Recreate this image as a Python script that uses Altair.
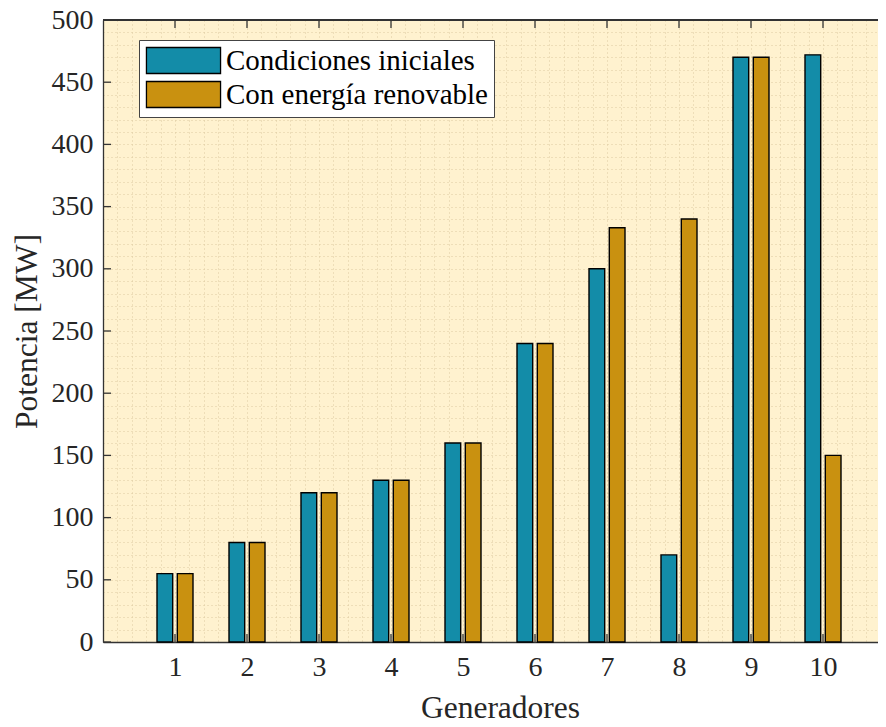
import altair as alt
import pandas as pd

generadores = list(range(1, 11))
condiciones_iniciales = [55, 80, 120, 130, 160, 240, 300, 70, 470, 472]
con_energia_renovable = [55, 80, 120, 130, 160, 240, 333, 340, 470, 150]
series = ["Condiciones iniciales", "Con energía renovable"]
y_ticks = list(range(0, 501, 50))
y_grid = list(range(0, 501, 10))
x_grid = [round(i * 0.2, 1) for i in range(54)]

W, H = 775, 622
XMAX = W / 72.0
FONT = "Liberation Serif"
BLUE = "#138CA8"
GOLD = "#C99110"
BG = "#FFF2CF"
GRID = "#DCCAA0"
AX = "#333333"

rows = []
for i, g in enumerate(generadores):
    rows.append({"gen": g, "serie": series[0], "idx": 0, "value": condiciones_iniciales[i]})
    rows.append({"gen": g, "serie": series[1], "idx": 1, "value": con_energia_renovable[i]})
df = pd.DataFrame(rows)

xscale = alt.Scale(domain=[0, XMAX], nice=False, zero=False)
yscale = alt.Scale(domain=[0, 500], nice=False)

xaxis = alt.Axis(
    values=x_grid, grid=True, gridColor=GRID, gridDash=[1, 3], gridWidth=1,
    ticks=False, domain=True, domainColor=AX, domainWidth=1.3,
    labelExpr="datum.value >= 1 && datum.value <= 10 && datum.value % 1 == 0 ? format(datum.value, 'd') : ''",
    labelFont=FONT, labelFontSize=28, labelColor="#262626", labelPadding=11,
    labelOverlap=False, labelFlush=False,
    title="Generadores", titleFont=FONT, titleFontSize=31.5, titleFontWeight="normal",
    titleColor="#262626", titleX=397, titleY=75, titleBaseline="alphabetic",
)
yaxis = alt.Axis(
    values=y_grid, grid=True, gridColor=GRID, gridDash=[1, 3], gridWidth=1,
    ticks=False, domain=True, domainColor=AX, domainWidth=1.3,
    labelExpr="datum.value % 50 == 0 ? format(datum.value, 'd') : ''",
    labelFont=FONT, labelFontSize=28, labelColor="#262626", labelPadding=10,
    labelOverlap=False, labelFlush=False,
    title="Potencia [MW]", titleFont=FONT, titleFontSize=31.5, titleFontWeight="normal",
    titleColor="#262626", titleX=-76, titleY=311, titleAngle=-90, titleBaseline="middle",
)

bars = alt.Chart(df).transform_calculate(
    x0="datum.gen + (datum.idx == 0 ? -0.25 : 0.032)",
    x1="datum.gen + (datum.idx == 0 ? -0.032 : 0.25)",
).mark_bar(stroke="black", strokeWidth=1.4).encode(
    x=alt.X("x0:Q", scale=xscale, axis=xaxis),
    x2="x1:Q",
    y=alt.Y("value:Q", scale=yscale, axis=yaxis),
    y2=alt.Y2(datum=0),
    color=alt.Color("serie:N", scale=alt.Scale(domain=series, range=[BLUE, GOLD]),
                    sort=series,
                    legend=alt.Legend(
                        orient="none", legendX=36, legendY=20, title=None,
                        symbolType="M-2.85,-1H2.85V1H-2.85Z", symbolSize=676,
                        symbolOffset=24,
                        symbolStrokeColor="black", symbolStrokeWidth=1.3, symbolOpacity=1,
                        labelFont=FONT, labelFontSize=29, labelColor="black", labelOffset=28,
                        labelLimit=600,
                        fillColor="white", strokeColor="#444444", padding=6, rowPadding=1,
                    )),
)

ytick_df = pd.DataFrame({"v": y_ticks})
gen_df = pd.DataFrame({"g": generadores})

left_ticks = alt.Chart(ytick_df).mark_rule(color=AX, strokeWidth=1.3).encode(
    y=alt.Y("v:Q", scale=yscale, axis=yaxis), x=alt.value(0), x2=alt.value(8))
bottom_ticks = alt.Chart(gen_df).mark_rule(color=AX, strokeWidth=1.3).encode(
    x=alt.X("g:Q", scale=xscale, axis=xaxis), y=alt.value(H), y2=alt.value(H - 8))
top_ticks = alt.Chart(gen_df).mark_rule(color=AX, strokeWidth=1.3).encode(
    x=alt.X("g:Q", scale=xscale, axis=xaxis), y=alt.value(0), y2=alt.value(8))
top_border = alt.Chart(gen_df).mark_rule(color=AX, strokeWidth=1.3).encode(
    x=alt.value(0), x2=alt.value(W), y=alt.value(0))

chart = alt.layer(bars, left_ticks, bottom_ticks, top_ticks, top_border).properties(
    width=W, height=H,
    autosize=alt.AutoSizeParams(type="none"),
    padding={"left": 95, "top": 12, "right": 0, "bottom": 77},
    background="white",
).configure_view(stroke=None, fill=BG)

chart.save("out.html", embed_options={"renderer": "svg", "actions": False})
